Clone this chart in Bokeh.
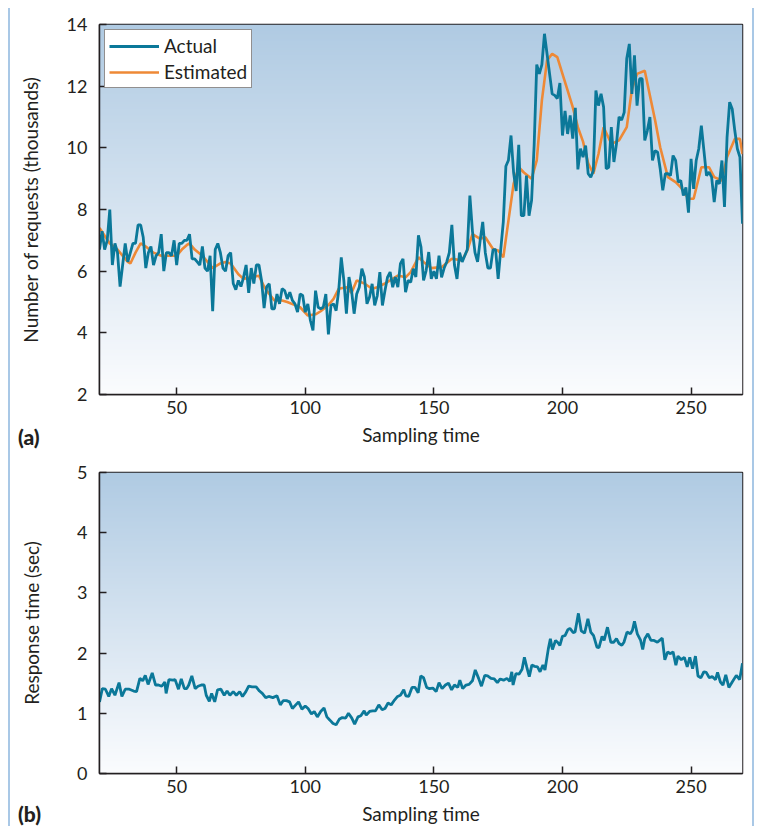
import numpy as np
from bokeh.plotting import figure
from bokeh.models import Range1d, Legend, LegendItem, FixedTicker, Div
from bokeh.layouts import column
from bokeh.embed import file_html
from bokeh.resources import INLINE

# ---------------- data ----------------
actual_requests = [
    6.7, 7.3, 6.7, 7.0, 8.0, 6.2, 6.9, 6.6, 5.5, 6.2,
    6.9, 6.3, 6.6, 6.9, 6.9, 7.5, 7.5, 7.1, 6.1, 6.6,
    6.8, 6.2, 6.5, 6.6, 7.2, 6.0, 6.6, 6.6, 6.5, 7.0,
    6.2, 6.9, 6.9, 7.0, 7.0, 7.2, 6.4, 6.4, 6.3, 6.2,
    6.8, 6.1, 6.0, 6.5, 4.7, 6.7, 6.9, 6.6, 6.1, 6.0,
    6.5, 6.6, 5.6, 5.4, 5.7, 5.5, 5.8, 6.2, 5.3, 6.1,
    5.6, 6.2, 6.2, 5.7, 4.8, 5.5,
    5.59, 4.78, 4.78, 5.26, 4.94, 5.43, 5.37, 5.10, 5.32, 5.05,
    4.94, 4.67, 5.26, 5.21, 4.67, 4.94, 4.40, 4.08, 5.37, 4.83,
    4.78, 4.83, 5.26, 3.95, 4.89, 4.94, 4.72, 5.37, 6.45, 5.70,
    4.62, 5.81, 5.37, 4.62, 5.26, 5.48, 6.08, 5.81, 4.94, 5.16,
    5.59, 4.89, 5.21, 5.97, 4.89, 5.37, 5.81, 5.97, 5.48, 5.81,
    5.48, 6.24, 6.40, 5.32, 5.70, 5.64, 6.08, 5.81, 7.16, 6.78,
    5.70, 6.02, 6.62,
    5.75, 6.0, 5.75, 6.5, 5.8, 6.1, 6.3, 6.6, 7.5, 6.2,
    5.75, 6.6, 6.3, 6.5, 6.7, 8.45, 7.3, 6.6, 6.3, 7.0,
    7.6, 6.6, 6.1, 6.1, 6.7, 6.7, 5.75, 6.7, 7.6, 9.4,
    9.6, 10.4, 9.2, 8.6, 10.1, 7.8, 7.8, 9.1, 7.8, 8.3,
    10.1, 12.7, 12.4, 12.7,
    13.7, 13.05, 12.4, 11.75, 11.7, 11.6, 12.1, 10.4, 11.2, 10.45, 11.05, 10.3, 11.3,
    9.3, 9.97, 9.7, 10.07, 9.16, 9.05, 9.26, 11.86, 11.37, 11.75,
    11.32, 9.32, 9.37, 10.67, 9.54, 10.13, 11.0, 10.9, 11.15, 12.9,
    13.37, 11.75, 13.0, 11.37, 12.24, 12.24, 10.24, 10.56, 11.0, 9.59,
    9.91, 9.86, 9.32, 8.62, 9.16, 9.16, 9.1, 9.75, 9.59, 8.89,
    8.94, 8.45, 8.72, 7.9, 9.64, 8.67, 9.59, 9.97, 10.72, 9.91,
    9.1, 9.21, 9.05, 8.24, 8.94, 8.83, 9.59, 8.08, 10.35, 11.48,
    11.26, 10.56, 9.97, 9.7, 7.54,
]
actual_time = list(range(20, 20 + len(actual_requests)))

est_time = [20, 24, 27, 31, 32, 34, 36, 38, 41, 44,
            47, 50, 52, 54, 55, 57, 60, 62, 64, 67,
            69, 71, 74, 76, 79, 82, 84, 85, 88, 91,
            93, 96, 98, 101, 104, 106, 109, 111, 113, 116,
            118, 120, 123, 126, 128, 131, 133, 136, 139, 141,
            144, 146, 149, 153, 157, 161, 163, 165, 168, 170,
            173, 175, 177, 179, 181, 183, 185, 188, 190, 192,
            194, 196, 198, 200, 202, 204, 206, 208, 210, 212,
            214, 216, 219, 222, 225, 227, 229, 232, 234, 236,
            238, 241, 244, 246, 249, 251, 254, 257, 259, 262,
            264, 267, 269, 270]
est_requests = [7.4, 6.9, 6.7, 6.3, 6.25, 6.6, 6.9, 6.8, 6.6, 6.5,
                6.5, 6.5, 6.7, 6.85, 6.9, 6.7, 6.5, 6.3, 6.1, 6.25,
                6.3, 6.25, 5.9, 5.75, 5.8, 5.85, 5.5, 5.37, 5.05, 5.05,
                5.0, 4.9, 4.83, 4.56, 4.6, 4.7, 4.9, 5.1, 5.43, 5.48,
                5.3, 5.7, 5.6, 5.43, 5.48, 5.6, 5.7, 5.86, 5.8, 5.97,
                6.45, 6.3, 6.1, 6.13, 6.4, 6.35, 6.67, 7.2, 7.05, 7.1,
                6.72, 6.67, 6.45, 7.64, 8.83, 9.37, 9.2, 9.0, 9.59, 11.54,
                12.83, 13.05, 12.94, 12.4, 11.86, 11.32, 10.67, 10.2, 9.5, 9.16,
                9.8, 10.67, 10.13, 10.24, 10.67, 11.9, 12.4, 12.5, 11.7, 10.9,
                10.02, 9.05, 8.89, 8.72, 8.35, 8.35, 9.37, 9.37, 9.05, 8.94,
                9.7, 10.29, 10.29, 9.8]

resp_time = [20.0, 21.1, 22.3, 23.6, 24.7, 26.0, 27.6, 28.7, 30.0, 31.6,
             33.3, 34.4, 35.7, 36.8, 37.8, 38.9, 40.5, 41.8, 42.9, 44.2,
             45.4, 45.9, 47.0, 48.6, 49.4, 50.7, 51.8, 53.0, 53.9, 54.7,
             55.9, 57.2, 58.3, 59.6, 60.7, 61.5, 62.7, 63.6, 64.8, 65.9,
             67.2, 68.5, 69.6, 70.7, 72.0, 73.2, 74.5, 75.6, 76.9, 78.0,
             79.3, 80.9, 82.2, 83.3, 84.6, 85.8, 87.4, 89.0, 90.3, 91.4,
             92.7, 93.9, 95.0, 96.3, 97.4, 98.7, 100.0, 101.1, 102.4, 103.5,
             104.7, 106.0, 107.3, 108.4, 109.5, 110.8, 112.0, 113.2, 114.4, 115.7,
             116.8, 118.1, 119.2, 120.5, 121.6, 122.9, 123.7, 125.0, 126.2, 127.3,
             128.6, 129.9, 131.0, 132.2, 133.4, 134.7, 135.9, 137.0, 138.3, 139.1,
             140.2, 141.5, 142.7, 143.9, 144.9, 146.0, 147.2, 148.3, 149.6, 150.9,
             152.0, 153.2, 154.5, 155.7, 156.9, 158.0, 159.3, 160.1, 161.2, 162.5,
             163.7, 165.0, 166.1, 167.4, 168.5, 169.8, 170.9, 172.2, 173.5, 174.7,
             175.8, 177.1, 178.4, 179.5, 180.3, 180.8, 181.9, 183.1, 184.3, 185.2,
             186.1, 187.1, 188.1, 189.2, 190.3, 191.3, 192.4, 193.2, 194.5, 195.3,
             196.1, 197.3, 198.1, 199.0, 200.0, 201.0, 202.1, 202.9, 204.2, 204.9,
             206.2, 207.3, 208.6, 209.9, 211.0, 212.1, 213.4, 214.2, 215.4, 216.2,
             217.5, 218.8, 219.9, 221.0, 222.0, 223.1, 223.9, 225.1, 226.4, 227.2,
             228.0, 229.1, 230.4, 231.2, 232.0, 233.2, 234.4, 235.6, 236.9, 238.0,
             238.8, 239.8, 240.9, 242.0, 243.0, 244.1, 244.9, 246.2, 247.4, 248.5,
             249.5, 250.6, 251.7, 252.7, 253.8, 255.0, 255.9, 257.1, 258.2, 259.5,
             260.3, 261.4, 262.4, 263.5, 264.7, 266.0, 267.6, 268.9, 270.0]
resp_value = [1.19, 1.41, 1.40, 1.28, 1.41, 1.30, 1.51, 1.28, 1.40, 1.40,
              1.37, 1.36, 1.58, 1.54, 1.63, 1.48, 1.67, 1.47, 1.47, 1.45,
              1.52, 1.33, 1.56, 1.55, 1.56, 1.40, 1.57, 1.41, 1.41, 1.47,
              1.62, 1.41, 1.45, 1.47, 1.47, 1.30, 1.20, 1.33, 1.19, 1.39,
              1.40, 1.30, 1.37, 1.30, 1.36, 1.30, 1.36, 1.28, 1.36, 1.45,
              1.44, 1.44, 1.37, 1.33, 1.26, 1.28, 1.26, 1.29, 1.14, 1.21,
              1.21, 1.19, 1.08, 1.14, 1.19, 1.07, 1.12, 1.08, 0.99, 1.03,
              0.94, 1.03, 1.09, 0.94, 0.89, 0.83, 0.81, 0.90, 0.93, 0.92,
              1.00, 0.92, 0.82, 0.94, 0.96, 1.04, 0.97, 1.03, 1.04, 1.04,
              1.14, 1.06, 1.08, 1.17, 1.14, 1.22, 1.28, 1.30, 1.39, 1.29,
              1.28, 1.43, 1.43, 1.34, 1.62, 1.59, 1.43, 1.41, 1.42, 1.36,
              1.51, 1.41, 1.47, 1.50, 1.39, 1.47, 1.43, 1.55, 1.41, 1.47,
              1.48, 1.54, 1.72, 1.58, 1.45, 1.63, 1.62, 1.58, 1.57, 1.51,
              1.57, 1.55, 1.58, 1.53, 1.69, 1.47, 1.66, 1.65, 1.73, 1.93,
              1.77, 1.61, 1.80, 1.78, 1.77, 1.69, 1.80, 1.72, 2.07, 2.24,
              2.06, 2.21, 2.18, 2.13, 2.28, 2.29, 2.39, 2.41, 2.34, 2.35,
              2.66, 2.37, 2.33, 2.57, 2.35, 2.29, 2.10, 2.09, 2.28, 2.21,
              2.43, 2.18, 2.18, 2.24, 2.16, 2.13, 2.18, 2.35, 2.32, 2.38,
              2.53, 2.32, 2.21, 2.06, 2.24, 2.32, 2.21, 2.21, 2.18, 2.22,
              2.25, 1.89, 2.02, 1.99, 2.02, 1.80, 1.95, 1.89, 1.93, 1.77,
              1.93, 1.74, 1.95, 1.62, 1.59, 1.69, 1.68, 1.59, 1.61, 1.56,
              1.68, 1.52, 1.47, 1.64, 1.43, 1.52, 1.63, 1.56, 1.83]

x_ticks = [50, 100, 150, 200, 250]
req_ticks = [2, 4, 6, 8, 10, 12, 14]
resp_ticks = [0, 1, 2, 3, 4, 5]

# ---------------- style ----------------
FONT = "Lato"
BLUE = "#0b7899"
ORANGE = "#ee8936"
TXT = "#231f20"


def gradient_image():
    n = 256
    top = np.array([176, 203, 227], dtype=float)
    bot = np.array([251, 252, 254], dtype=float)
    f = np.linspace(0.0, 1.0, n)[:, None]
    rgb = bot * (1 - f) + top * f
    img = np.empty((n, 2), dtype=np.uint32)
    view = img.view(dtype=np.uint8).reshape((n, 2, 4))
    for k in range(3):
        view[:, :, k] = rgb[:, k][:, None].astype(np.uint8)
    view[:, :, 3] = 255
    return img


def make_fig(height, yr, yticks, ylabel, border_bottom, ylabel_standoff):
    p = figure(width=742, height=height, x_range=Range1d(20, 270), y_range=Range1d(*yr),
               output_backend="svg", toolbar_location=None,
               min_border_left=89, min_border_right=10, min_border_top=16,
               min_border_bottom=border_bottom)
    p.image_rgba(image=[gradient_image()], x=p.x_range.start, y=p.y_range.start,
                 dw=p.x_range.end - p.x_range.start, dh=p.y_range.end - p.y_range.start)
    p.grid.visible = False
    p.outline_line_color = TXT
    p.outline_line_width = 1.5
    p.outline_line_alpha = 1.0
    p.border_fill_color = "white"
    p.xaxis.ticker = FixedTicker(ticks=x_ticks)
    p.yaxis.ticker = FixedTicker(ticks=yticks)
    for ax in (p.xaxis[0], p.yaxis[0]):
        ax.major_tick_in = 7
        ax.major_tick_out = 0
        ax.minor_tick_in = 0
        ax.minor_tick_out = 0
        ax.axis_line_width = 1.5
        ax.axis_line_color = TXT
        ax.major_tick_line_color = TXT
        ax.major_tick_line_width = 1.5
        ax.major_label_text_font = FONT
        ax.major_label_text_font_size = "18px"
        ax.major_label_text_color = TXT
        ax.axis_label_text_font = FONT
        ax.axis_label_text_font_size = "19px"
        ax.axis_label_text_font_style = "normal"
        ax.axis_label_text_color = TXT
    p.xaxis.major_label_standoff = 6
    p.xaxis.axis_label = "Sampling time"
    p.xaxis.axis_label_standoff = 6
    p.yaxis.major_label_standoff = 12
    p.yaxis.axis_label = ylabel
    p.yaxis.axis_label_standoff = ylabel_standoff
    return p


def panel_tag(text, margin):
    html = (f'<span style="font-family:{FONT};font-size:21px;font-weight:900;'
            f'color:{TXT};line-height:24px">{text}</span>')
    return Div(text=html, width=44, height=24, margin=margin,
               styles={"position": "relative", "z-index": "10"})


# ---------------- (a) requests ----------------
p1 = make_fig(448, (2, 14), req_ticks, "Number of requests (thousands)", 62, 22)
r_est = p1.line(est_time, est_requests, line_color=ORANGE, line_width=2.6)
r_act = p1.line(actual_time, actual_requests, line_color=BLUE, line_width=2.8)
legend = Legend(items=[LegendItem(label="Actual", renderers=[r_act]),
                       LegendItem(label="Estimated", renderers=[r_est])],
                location="top_left")
legend.margin = 5
legend.padding = 4
legend.spacing = 3
legend.glyph_width = 50
legend.glyph_height = 22
legend.label_height = 22
legend.label_standoff = 5
legend.label_text_font = FONT
legend.label_text_font_size = "19px"
legend.label_text_color = TXT
legend.border_line_color = TXT
legend.border_line_width = 1.3
legend.background_fill_color = "white"
legend.background_fill_alpha = 1.0
p1.add_layout(legend)
tag_a = panel_tag("(a)", (-31, 0, 7, 8))

# ---------------- (b) response time ----------------
p2 = make_fig(374, (0, 5), resp_ticks, "Response time (sec)", 57, 31)
p2.line(resp_time, resp_value, line_color=BLUE, line_width=2.8)
tag_b = panel_tag("(b)", (-28, 0, 0, 8))

layout = column(p1, tag_a, p2, tag_b, margin=(8, 0, 0, 8),
                styles={"border-left": "2px solid #a9c8e6",
                        "border-right": "2px solid #a9c8e6"})

open("out.html", "w").write(file_html(layout, INLINE))
